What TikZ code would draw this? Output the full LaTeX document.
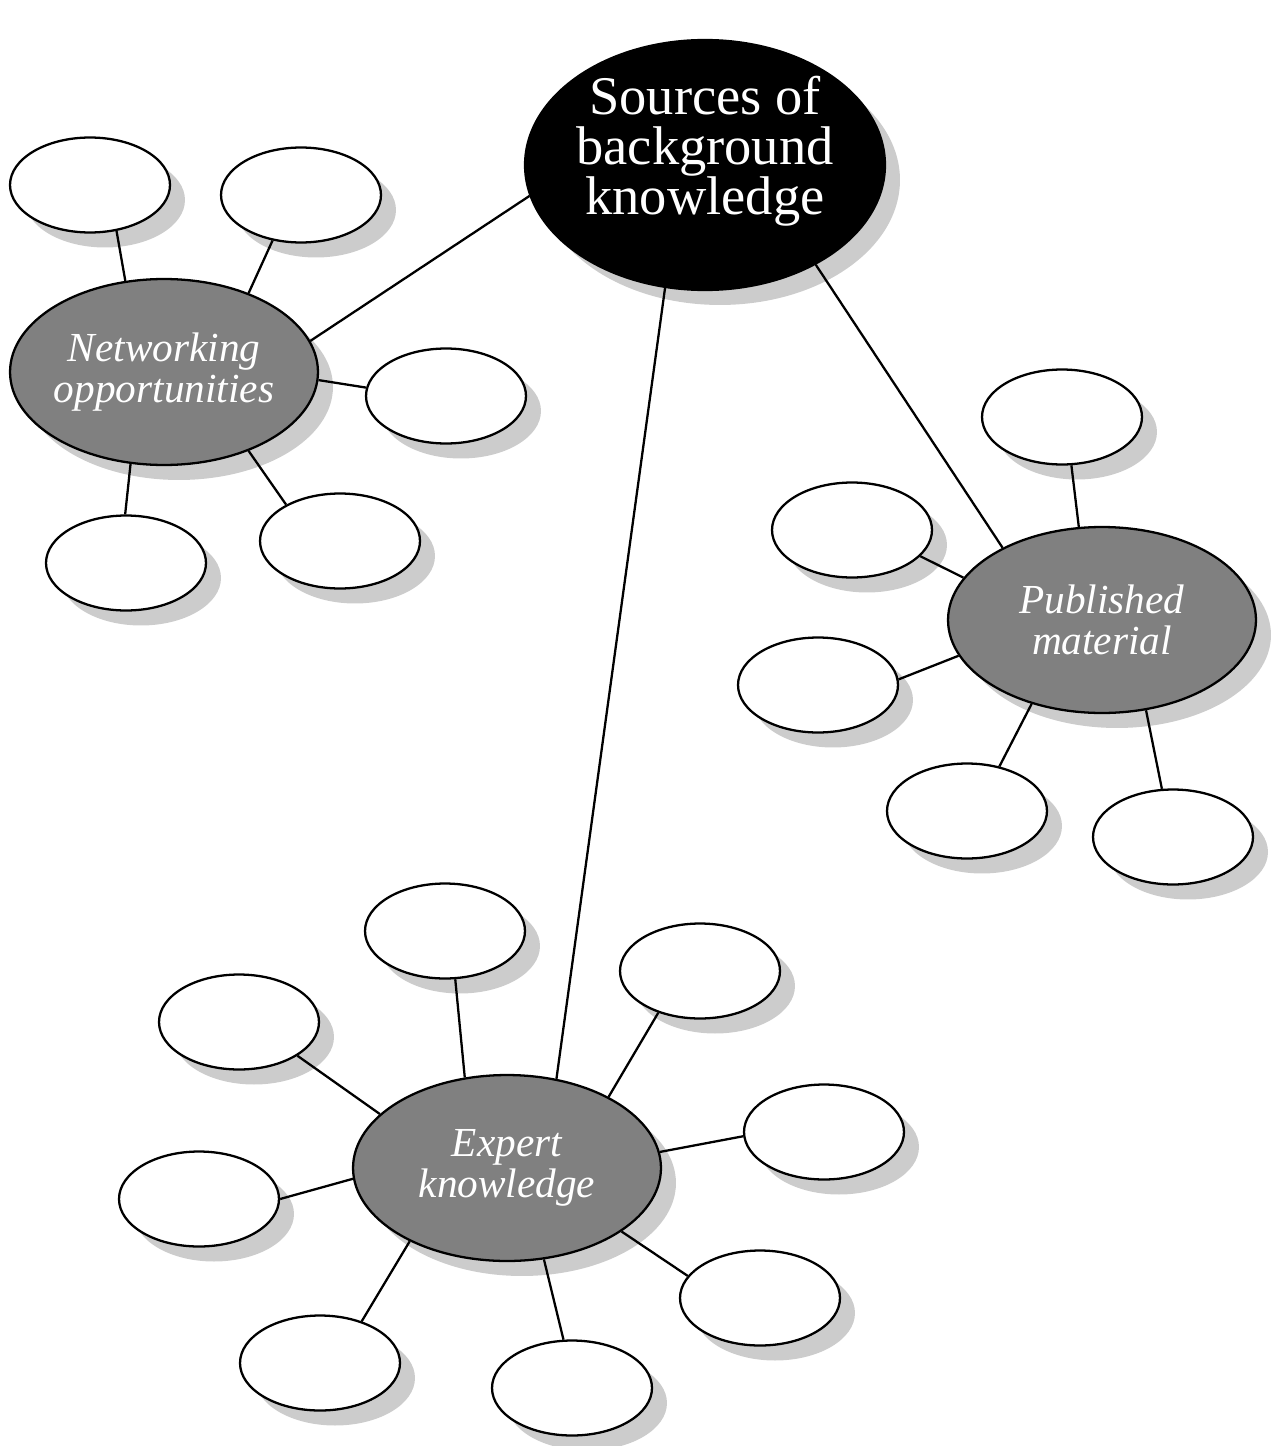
\documentclass[tikz,border=0pt]{standalone}
\usepackage{fontspec}
\setmainfont{Liberation Serif}
\usetikzlibrary{shapes.geometric,shadows}
\tikzset{
 shadowed/.style={drop shadow={shadow xshift=0.3cm, shadow yshift=-0.3cm, fill=black!20, opacity=1}},
 hub/.style={ellipse, draw=black, line width=1.3pt, fill=black, minimum width=7.2cm, minimum height=5cm, inner sep=0pt, shadowed},
 hubtext/.style={text=white, font=\fontsize{31}{28.5}\selectfont, align=center, inner sep=0pt},
 topic/.style={ellipse, draw=black, line width=1.3pt, fill=black!50, minimum width=6.16cm, minimum height=3.72cm, inner xsep=-0.4cm, inner ysep=0pt, shadowed, text=white, font=\fontsize{23.5}{23.5}\selectfont\itshape, align=center},
 leaf/.style={ellipse, draw=black, line width=1.3pt, fill=white, minimum width=3.2cm, minimum height=1.9cm, inner sep=0pt, shadowed},
 link/.style={line width=1.3pt}
}
\begin{document}
\begin{tikzpicture}[x=0.02cm, y=-0.02cm]
\useasboundingbox (0,0) rectangle (1275,1446);
% hub
\node[hub, label={[hubtext, yshift=0.27cm]center:Sources of\\background\\knowledge}] (C) at (705,165) {};
% topics
\node[topic] (N) at (164,372) {Networking\\opportunities};
\node[topic] (P) at (1102,620) {Published\\material};
\node[topic] (E) at (507,1168) {Expert\\knowledge};
% networking leaves
\node[leaf] (n1) at (90,185) {};
\node[leaf] (n2) at (301,195) {};
\node[leaf] (n3) at (446,396) {};
\node[leaf] (n4) at (340,541) {};
\node[leaf] (n5) at (126,563) {};
% published leaves
\node[leaf] (p1) at (1062,417) {};
\node[leaf] (p2) at (852,530) {};
\node[leaf] (p3) at (818,685) {};
\node[leaf] (p4) at (967,811) {};
\node[leaf] (p5) at (1173,837) {};
% expert leaves
\node[leaf] (e1) at (445,931) {};
\node[leaf] (e2) at (700,971) {};
\node[leaf] (e3) at (239,1022) {};
\node[leaf] (e4) at (824,1132) {};
\node[leaf] (e5) at (199,1199) {};
\node[leaf] (e6) at (760,1298) {};
\node[leaf] (e7) at (320,1363) {};
\node[leaf] (e8) at (572,1388) {};
% hub links
\draw[link] (C.190.7) -- (N.12.7);
\draw[link] (C.252.9) -- (E.61.9);
\draw[link] (C.318.5) -- (P.144.3);
% networking links
\draw[link] (N.113) -- (n1.300);
\draw[link] (N.43.2) -- (n2.238.7);
\draw[link] (N.-3.3) -- (n3.174.1);
\draw[link] (N.-43.3) -- (n4.146.8);
\draw[link] (N.250.3) -- (n5.91.2);
% published links
\draw[link] (P.104.8) -- (p1.281.1);
\draw[link] (P.163.7) -- (p2.339.6);
\draw[link] (P.194.4) -- (p3.4.3);
\draw[link] (P.230.1) -- (p4.54);
\draw[link] (P.296.3) -- (p5.103.4);
% expert links
\draw[link] (E.115.5) -- (e1.282);
\draw[link] (E.35.4) -- (e2.225.7);
\draw[link] (E.157.6) -- (e3.330.2);
\draw[link] (E.6.8) -- (e4.183.7);
\draw[link] (E.184.5) -- (e5.0);
\draw[link] (E.331.5) -- (e6.163.7);
\draw[link] (E.217.9) -- (e7.45.7);
\draw[link] (E.292.4) -- (e8.100.8);
\end{tikzpicture}
\end{document}
